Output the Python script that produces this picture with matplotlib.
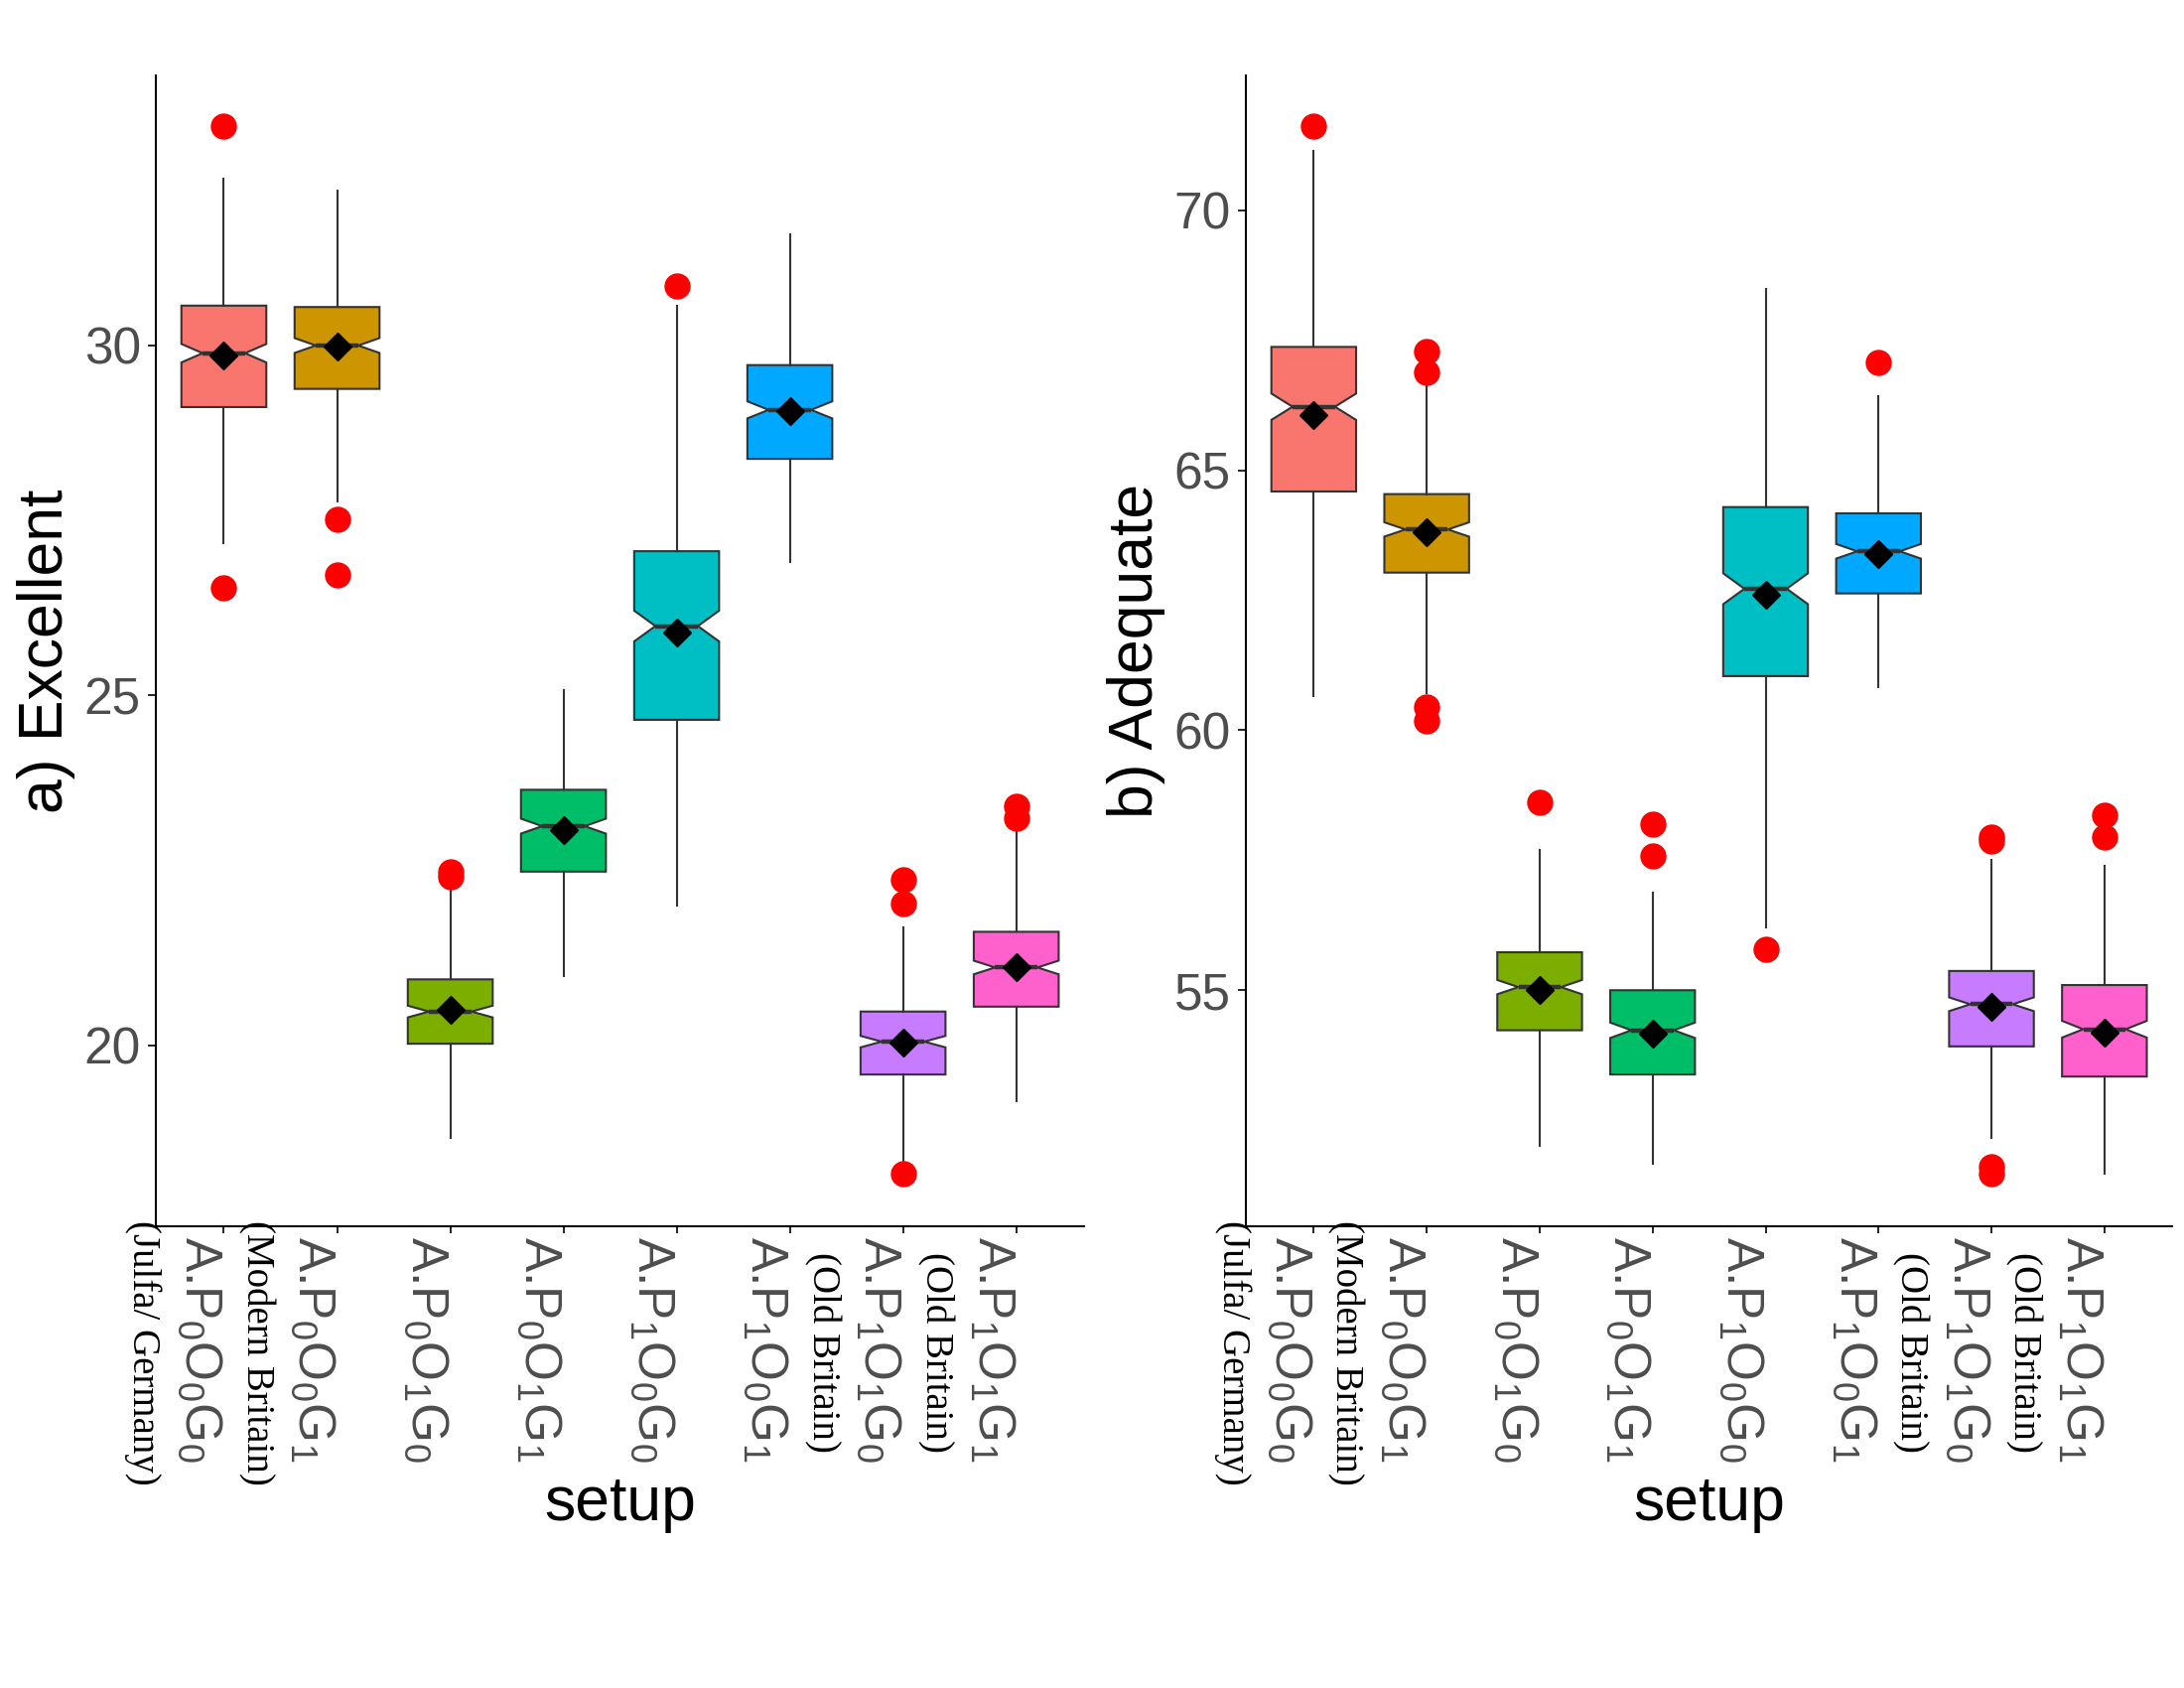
import numpy as np
import matplotlib
matplotlib.use('Agg')
from matplotlib import pyplot as plt

plt.rcParams['font.family'] = ['Liberation Sans', 'DejaVu Sans']
plt.rcParams['mathtext.default'] = 'regular'

# x categories
setups = ['A.P$_0$O$_0$G$_0$', 'A.P$_0$O$_0$G$_1$', 'A.P$_0$O$_1$G$_0$', 'A.P$_0$O$_1$G$_1$',
          'A.P$_1$O$_0$G$_0$', 'A.P$_1$O$_0$G$_1$', 'A.P$_1$O$_1$G$_0$', 'A.P$_1$O$_1$G$_1$']
notes = ['(Julfa/ Germany)', '(Modern Britain)', '', '', '', '', '(Old Britain)', '(Old Britain)']
fills = ['#F8766D', '#CD9600', '#7CAE00', '#00BE67', '#00BFC4', '#00A9FF', '#C77CFF', '#FF61CC']
n_obs = 300  # runs per setup (sets the notch size)

# a) Excellent
exc_whislo = [27.18, 27.77, 18.67, 20.99, 21.99, 26.90, 18.32, 19.20]
exc_q1 = [29.12, 29.38, 20.02, 22.48, 24.65, 28.38, 19.58, 20.55]
exc_med = [29.89, 30.00, 20.48, 23.13, 25.99, 29.08, 20.05, 21.11]
exc_q3 = [30.57, 30.55, 20.94, 23.65, 27.06, 29.72, 20.48, 21.62]
exc_whishi = [32.39, 32.22, 22.26, 25.07, 30.57, 31.59, 21.68, 23.14]
exc_mean = [29.86, 29.98, 20.51, 23.08, 25.90, 29.06, 20.03, 21.12]
exc_out = [[33.13, 26.53], [27.52, 26.72], [22.48, 22.40], [], [30.85], [],
           [22.36, 22.02, 18.17], [23.41, 23.25]]

# b) Adequate
ade_whislo = [60.66, 60.71, 52.01, 51.66, 56.20, 60.83, 52.16, 51.47]
ade_q1 = [64.59, 63.03, 54.23, 53.38, 61.04, 62.63, 53.92, 53.34]
ade_med = [66.22, 63.86, 55.06, 54.23, 62.72, 63.44, 54.73, 54.25]
ade_q3 = [67.37, 64.54, 55.73, 55.00, 64.29, 64.17, 55.37, 55.10]
ade_whishi = [71.14, 66.74, 57.70, 56.87, 68.49, 66.43, 57.51, 57.39]
ade_mean = [66.06, 63.80, 55.00, 54.17, 62.61, 63.38, 54.69, 54.19]
ade_out = [[71.62], [67.28, 66.89, 60.44, 60.17], [58.61], [58.20, 57.59], [55.79], [67.07],
           [57.95, 57.86, 51.60, 51.47], [58.36, 57.95]]


def make_stats(whislo, q1, med, q3, whishi, mean, out):
    stats = []
    for i in range(len(med)):
        half = 1.58 * (q3[i] - q1[i]) / np.sqrt(n_obs)
        stats.append({'whislo': whislo[i], 'q1': q1[i], 'med': med[i], 'q3': q3[i],
                      'whishi': whishi[i], 'mean': mean[i], 'fliers': out[i],
                      'cilo': med[i] - half, 'cihi': med[i] + half})
    return stats


def draw_panel(ax, stats, ylabel, ylim, yticks):
    pos = np.arange(1, len(stats) + 1)
    bp = ax.bxp(stats, positions=pos, widths=0.75, patch_artist=True, shownotches=True,
                showcaps=False, showmeans=True,
                boxprops=dict(edgecolor='#333333', linewidth=1.5),
                whiskerprops=dict(color='#333333', linewidth=1.5),
                medianprops=dict(color='#333333', linewidth=3.2),
                flierprops=dict(marker='o', markerfacecolor='red', markeredgecolor='red',
                                markersize=18, linestyle='none'),
                meanprops=dict(marker='D', markerfacecolor='black', markeredgecolor='black',
                               markersize=14))
    for patch, c in zip(bp['boxes'], fills):
        patch.set_facecolor(c)
    for m in bp['means']:
        m.set_zorder(5)

    ax.set_xlim(0.4, len(stats) + 0.6)
    ax.set_ylim(*ylim)
    ax.set_yticks(yticks)
    ax.set_xticks(pos)
    ax.set_xticklabels(setups)
    ax.spines['top'].set_visible(False)
    ax.spines['right'].set_visible(False)
    ax.spines['left'].set_linewidth(1.5)
    ax.spines['bottom'].set_linewidth(1.5)
    ax.tick_params(axis='y', length=6, width=1.2, pad=5, labelsize=37, labelcolor='#4D4D4D')
    ax.tick_params(axis='x', length=5, width=1.2, pad=2, labelsize=37, labelcolor='#4D4D4D')
    plt.setp(ax.get_xticklabels(), rotation=-90, ha='right', va='top')

    for i, note in enumerate(notes):
        if note:
            ax.annotate(note, xy=(pos[i], 0), xycoords=ax.get_xaxis_transform(),
                        xytext=(-63, -127), textcoords='offset pixels',
                        rotation=-90, ha='right', va='center',
                        family='Liberation Serif', fontsize=28, color='black')

    ax.set_xlabel('setup', fontsize=45, color='black')
    ax.xaxis.set_label_coords(0.5, -0.216)
    ax.set_ylabel(ylabel, fontsize=45, color='black')
    ax.yaxis.set_label_coords(-0.087, 0.5)


fig = plt.figure(figsize=(22, 17), dpi=100)
ax1 = fig.add_axes([0.0714, 0.2735, 0.425, 0.6818])
ax2 = fig.add_axes([0.5705, 0.2735, 0.4241, 0.6818])

draw_panel(ax1, make_stats(exc_whislo, exc_q1, exc_med, exc_q3, exc_whishi, exc_mean, exc_out),
           'a) Excellent', (17.41, 33.86), [20, 25, 30])
draw_panel(ax2, make_stats(ade_whislo, ade_q1, ade_med, ade_q3, ade_whishi, ade_mean, ade_out),
           'b) Adequate', (50.46, 72.59), [55, 60, 65, 70])

fig.savefig('out.png', dpi=100, facecolor='white')
